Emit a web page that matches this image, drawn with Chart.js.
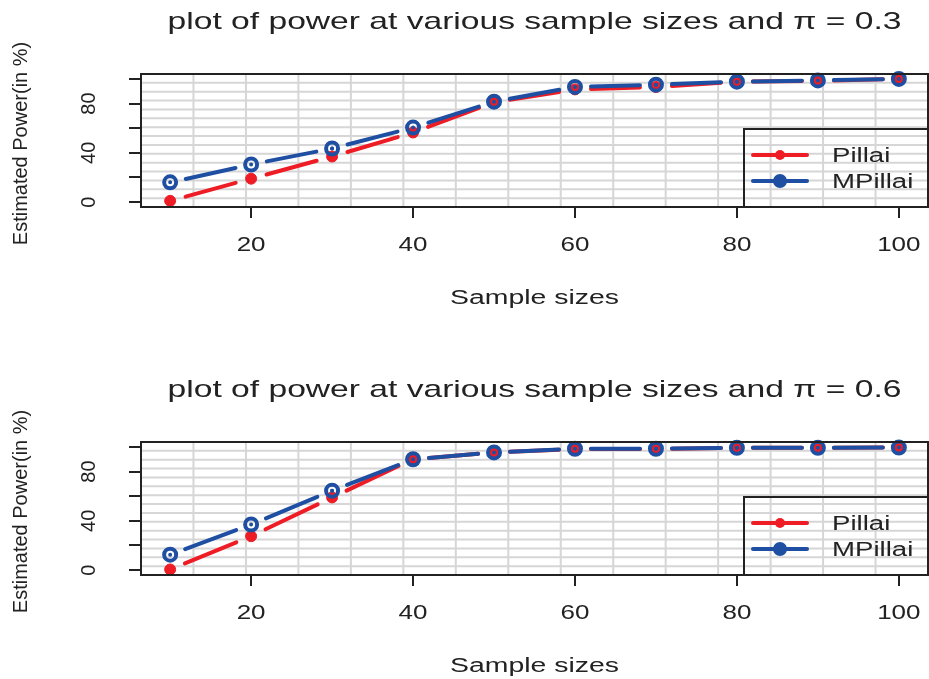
<!DOCTYPE html>
<html>
<head>
<meta charset="utf-8">
<script src="https://cdn.jsdelivr.net/npm/chart.js@4"></script>
<style>
  html, body { margin: 0; padding: 0; background: #fff; overflow: hidden; }
  #wrap { position: relative; width: 929px; height: 679px; }
  canvas { position: absolute; left: 0; }
  #c1 { top: 0; }
  #c2 { top: 368px; }
</style>
</head>
<body>
<div id="wrap">
  <canvas id="c1" width="929" height="368"></canvas>
  <canvas id="c2" width="929" height="368"></canvas>
</div>
<script>
"use strict";

// data
var sampleSizes = [10, 20, 30, 40, 50, 60, 70, 80, 90, 100];
var pillai03  = [1, 19, 37, 56.5, 81, 91.5, 93.5, 97.8, 98.5, 100];
var mpillai03 = [16, 30.5, 43.5, 60.5, 81.5, 93.5, 95.3, 97.8, 98.8, 100];
var pillai06  = [0.5, 27.5, 59, 90, 95.5, 98.3, 98.3, 99.3, 99.3, 99.5];
var mpillai06 = [12.5, 37, 64.5, 90, 95.5, 98.5, 98.5, 99.3, 99.3, 99.5];

var xTicks = [20, 40, 60, 80, 100];
var yTicks = [0, 20, 40, 60, 80, 100];
var yTickLabels = [0, 40, 80];
var seriesNames = ["Pillai", "MPillai"];

var RED = "#EE1D25";
var BLUE = "#1E4FA2";
var INK = "#222222";
var SX = 1.3; // horizontal text stretch seen in the picture

function stretchedText(ctx, str, x, y, size, align, sx) {
    ctx.save();
    ctx.translate(x, y);
    ctx.scale(sx || SX, 1);
    ctx.font = size + "px 'Liberation Sans', Arial, sans-serif";
    ctx.fillStyle = INK;
    ctx.textAlign = align || "center";
    ctx.textBaseline = "middle";
    ctx.fillText(str, 0, 0);
    ctx.restore();
}

function rotatedText(ctx, str, x, y, size) {
    ctx.save();
    ctx.translate(x, y);
    ctx.rotate(-Math.PI / 2);
    ctx.font = size + "px 'Liberation Sans', Arial, sans-serif";
    ctx.fillStyle = INK;
    ctx.textAlign = "center";
    ctx.textBaseline = "middle";
    ctx.fillText(str, 0, 0);
    ctx.restore();
}

// type="b" look: each segment stops short of the points
function gapDash(c) {
    var len = Math.hypot(c.p1.x - c.p0.x, c.p1.y - c.p0.y);
    var g = 16;
    return len > 2 * g ? [0, g, len - 2 * g, g] : [0, len];
}

var rPlot = {
    id: "rPlot",
    beforeDatasetsDraw: function (chart) {
        var ctx = chart.ctx, a = chart.chartArea;
        ctx.save();
        ctx.strokeStyle = "#d6d6d6";
        ctx.lineWidth = 2;
        for (var k = 1; k < 15; k++) {
            var x = a.left + k * (a.right - a.left) / 15;
            var y = a.top + k * (a.bottom - a.top) / 15;
            ctx.beginPath(); ctx.moveTo(x, a.top); ctx.lineTo(x, a.bottom); ctx.stroke();
            ctx.beginPath(); ctx.moveTo(a.left, y); ctx.lineTo(a.right, y); ctx.stroke();
        }
        ctx.restore();
    },
    afterDraw: function (chart) {
        var ctx = chart.ctx, a = chart.chartArea;
        var xs = chart.scales.x, ys = chart.scales.y;
        var o = chart.options.plugins.rPlot;

        // box
        ctx.save();
        ctx.strokeStyle = INK;
        ctx.lineWidth = 2;
        ctx.strokeRect(a.left, a.top, a.right - a.left, a.bottom - a.top);
        ctx.restore();

        // title
        stretchedText(ctx, o.title, (a.left + a.right) / 2, 22, 24, "center", 1.4);

        // x tick labels and title
        xTicks.forEach(function (v) {
            stretchedText(ctx, String(v), xs.getPixelForValue(v), a.bottom + 38, 20);
        });
        stretchedText(ctx, "Sample sizes", (a.left + a.right) / 2, a.bottom + 91, 20, "center", 1.42);

        // y tick labels and title
        yTickLabels.forEach(function (v) {
            rotatedText(ctx, String(v), 89, ys.getPixelForValue(v), 20);
        });
        rotatedText(ctx, "Estimated Power(in %)", 21, (a.top + a.bottom) / 2 + 3, 20);

        // legend
        var bx = a.right - 184, by = a.bottom - 78;
        ctx.save();
        ctx.strokeStyle = INK;
        ctx.lineWidth = 2;
        ctx.strokeRect(bx, by, a.right - bx, a.bottom - by);
        ctx.restore();
        var rows = [a.bottom - 52, a.bottom - 26];
        chart.data.datasets.forEach(function (ds, i) {
            var ly = rows[i];
            ctx.save();
            ctx.strokeStyle = ds.borderColor;
            ctx.lineWidth = 4;
            ctx.lineCap = "round";
            ctx.beginPath(); ctx.moveTo(bx + 9, ly); ctx.lineTo(bx + 63, ly); ctx.stroke();
            ctx.fillStyle = ds.borderColor;
            ctx.beginPath(); ctx.arc(bx + 36, ly, i === 0 ? 5 : 7, 0, Math.PI * 2); ctx.fill();
            ctx.restore();
            stretchedText(ctx, ds.label, bx + 88, ly + 1, 20, "left", 1.38);
        });
    }
};

function makeChart(id, titleText, redData, blueData) {
    var ctx = document.getElementById(id).getContext("2d");
    return new Chart(ctx, {
        type: "line",
        data: {
            labels: sampleSizes,
            datasets: [{
                label: seriesNames[0],
                data: sampleSizes.map(function (s, i) { return { x: s, y: redData[i] }; }),
                borderColor: RED,
                borderWidth: 4,
                borderCapStyle: "round",
                pointStyle: "circle",
                pointRadius: 5.5,
                pointBackgroundColor: RED,
                pointBorderColor: RED,
                pointBorderWidth: 1,
                tension: 0,
                clip: false,
                order: 2,
                segment: { borderDash: gapDash }
            }, {
                label: seriesNames[1],
                data: sampleSizes.map(function (s, i) { return { x: s, y: blueData[i] }; }),
                borderColor: BLUE,
                borderWidth: 4,
                borderCapStyle: "round",
                pointStyle: "circle",
                pointRadius: 6,
                pointBackgroundColor: "rgba(0,0,0,0)",
                pointBorderColor: BLUE,
                pointBorderWidth: 4,
                tension: 0,
                clip: false,
                order: 1,
                segment: { borderDash: gapDash }
            }]
        },
        options: {
            responsive: false,
            animation: false,
            events: [],
            layout: { autoPadding: false, padding: { left: 0, top: 74, right: 1, bottom: 149 } },
            plugins: {
                legend: { display: false },
                tooltip: { enabled: false },
                rPlot: { title: titleText }
            },
            scales: {
                x: {
                    type: "linear",
                    min: 6.4,
                    max: 103.6,
                    afterBuildTicks: function (s) { s.ticks = xTicks.map(function (v) { return { value: v }; }); },
                    afterFit: function (s) { s.height = 12; },
                    ticks: { display: false },
                    grid: { drawOnChartArea: false, tickLength: 11, color: INK, lineWidth: 2 },
                    border: { display: false }
                },
                y: {
                    type: "linear",
                    min: -4,
                    max: 104,
                    afterBuildTicks: function (s) { s.ticks = yTicks.map(function (v) { return { value: v }; }); },
                    afterFit: function (s) { s.width = 141; },
                    ticks: { display: false },
                    grid: { drawOnChartArea: false, tickLength: 12, color: INK, lineWidth: 2 },
                    border: { display: false }
                }
            }
        },
        plugins: [rPlot]
    });
}

makeChart("c1", "plot of power at various sample sizes and \u03c0 = 0.3", pillai03, mpillai03);
makeChart("c2", "plot of power at various sample sizes and \u03c0 = 0.6", pillai06, mpillai06);
</script>
</body>
</html>
